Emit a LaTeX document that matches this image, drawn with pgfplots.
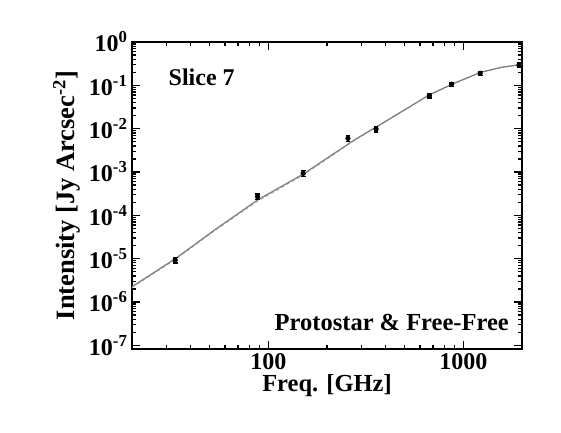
\documentclass[border=0pt]{standalone}
\usepackage{pgfplots}
\pgfplotsset{compat=1.18}
\usepackage{fontspec}
\setmainfont{Liberation Serif}
\begin{document}
\begin{tikzpicture}
\path[use as bounding box] (0,0) rectangle (561pt,432pt);
\begin{axis}[
  at={(132pt,83pt)}, anchor=south west,
  scale only axis, width=390pt, height=307pt,
  xmode=log, ymode=log,
  xmin=20, xmax=2000, ymin=8.2e-8, ymax=1,
  axis line style={line width=1.6pt},
  every tick/.style={black, line width=1.3pt},
  major tick length=8pt, minor tick length=4pt,
  tick align=inside,
  xtick={100,1000}, xticklabels={\textbf{100},\textbf{1000}},
  minor xtick={30,40,50,60,70,80,90,200,300,400,500,600,700,800,900},
  ytick={1e-7,1e-6,1e-5,1e-4,1e-3,1e-2,1e-1,1},
  yticklabels={10\textsuperscript{-7},10\textsuperscript{-6},10\textsuperscript{-5},10\textsuperscript{-4},10\textsuperscript{-3},10\textsuperscript{-2},10\textsuperscript{-1},10\textsuperscript{0}},
  minor ytick={},
  ticklabel style={font=\fontsize{24}{28}\selectfont\bfseries},
  xticklabel style={yshift=-1pt},
  yticklabel style={xshift=-1pt},
  xlabel={Freq. [GHz]}, ylabel={Intensity [Jy Arcsec\textsuperscript{-2}]},
  xlabel style={font=\fontsize{24.5}{28}\selectfont\bfseries, at={(axis description cs:0.5,0)}, anchor=north, yshift=-22pt},
  ylabel style={font=\fontsize{26.5}{30}\selectfont\bfseries, yshift=2pt},
  clip=true,
]
% model (dashed, light)
\addplot[gray!55, line width=1.0pt, dashed] coordinates {
 (20,2.15e-6) (33.2,9.4e-6) (53.8,4.6e-5) (88.2,2.1e-4) (151.4,8.5e-4)
 (276,5.3e-3) (357,1.07e-2) (480,2.4e-2) (667,5.95e-2) (895,0.11)
 (1230,0.2) (1556,0.258) (2018,0.306)};
% model (solid)
\addplot[gray, line width=1.3pt] coordinates {
 (20,2.25e-6) (33.2,9.8e-6) (53.8,4.8e-5) (88.2,2.26e-4) (151.4,9.0e-4)
 (276,5.47e-3) (357,1.09e-2) (480,2.43e-2) (667,5.98e-2) (895,0.111)
 (1230,0.2) (1556,0.258) (2018,0.306)};
% data with error bars
\addplot[black, line width=1.2pt, only marks, mark=none,
  error bars/.cd, y dir=both, y explicit relative,
  error bar style={line width=1.2pt}, error mark options={rotate=90, mark size=2.4pt, line width=1.2pt}]
  coordinates {
 (33.3,9.3e-6) +- (0,0.15)
 (88,2.7e-4) +- (0,0.15)
 (151,9.3e-4) +- (0,0.15)
 (256,6.0e-3) +- (0,0.15)
 (357,9.8e-3) +- (0,0.15)
 (670,5.77e-2) +- (0,0.12)
 (871,0.106) +- (0,0.12)
 (1220,0.19) +- (0,0.12)
 (1930,0.294) +- (0,0.12)};
\node[anchor=west, font=\fontsize{24}{28}\selectfont\bfseries] at (rel axis cs:0.085,0.885) {Slice 7};
\node[anchor=east, font=\fontsize{24.5}{28}\selectfont\bfseries] at (rel axis cs:0.975,0.087) {Protostar \& Free-Free};
\end{axis}
\end{tikzpicture}
\end{document}
